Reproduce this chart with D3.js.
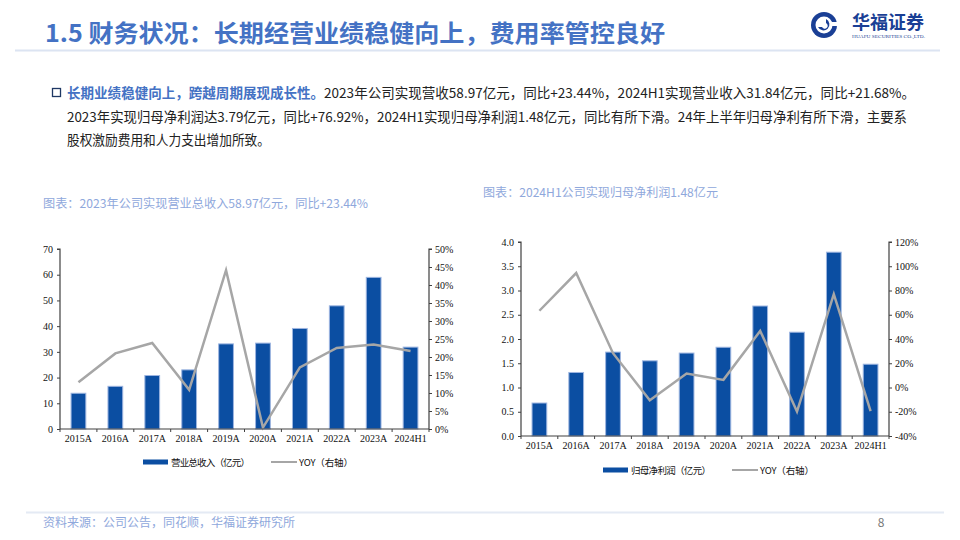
<!DOCTYPE html>
<html>
<head>
<meta charset="utf-8">
<script src="https://cdn.jsdelivr.net/npm/d3@7"></script>
<style>
  body { margin: 0; background: #fff; }
  svg { display: block; }
</style>
</head>
<body>
<svg id="page" width="960" height="540"></svg>
<script>
// data
const years = ['2015A', '2016A', '2017A', '2018A', '2019A', '2020A', '2021A', '2022A', '2023A', '2024H1'];
const revenue = [13.9, 16.6, 20.8, 23.0, 33.1, 33.4, 39.1, 47.9, 58.97, 31.84];
const revenueYoy = [13.0, 21.0, 23.9, 10.9, 44.1, 0.4, 17.1, 22.5, 23.44, 21.68];
const profit = [0.68, 1.31, 1.73, 1.55, 1.71, 1.83, 2.68, 2.14, 3.79, 1.48];
const profitYoy = [63.3, 94.4, 28.3, -10.5, 11.5, 6.3, 46.7, -19.9, 76.92, -19.4];

const revenueTicks = d3.range(0, 71, 10);
const revenueYoyTicks = d3.range(0, 51, 5);
const profitTicks = d3.range(0, 4.01, 0.5);
const profitYoyTicks = d3.range(-40, 121, 20);

const BLUE = '#0B4EA2';
const GREY = '#A6A6A6';
const TITLE_BLUE = '#4472C4';
const LIGHT_BLUE = '#8FA8DC';
const CJK = '"Noto Sans CJK SC", "Noto Sans", sans-serif';
const SERIF = '"Liberation Serif", "DejaVu Serif", serif';

const svg = d3.select('#page');

// header
svg.append('text')
  .attr('x', 45).attr('y', 42)
  .attr('font-family', CJK).attr('font-weight', 'bold')
  .attr('font-size', 24).attr('fill', TITLE_BLUE)
  .attr('textLength', 620).attr('lengthAdjust', 'spacingAndGlyphs')
  .text('1.5 财务状况：长期经营业绩稳健向上，费用率管控良好');

svg.append('line')
  .attr('x1', 15).attr('x2', 940).attr('y1', 50.5).attr('y2', 50.5)
  .attr('stroke', '#DCE4F2').attr('stroke-width', 2);

// logo
const logo = svg.append('g').attr('transform', 'translate(824,25)');
logo.append('circle').attr('r', 13).attr('fill', '#1A3F95');
logo.append('circle').attr('r', 8.5).attr('fill', '#fff');
logo.append('path')
  .attr('d', 'M -6 2 A 6 6 0 1 0 2 -6 L 2 -2 A 3 3 0 1 1 -2 2 Z')
  .attr('fill', '#1A3F95');
logo.append('rect').attr('x', 6).attr('y', -3).attr('width', 8).attr('height', 4).attr('fill', '#fff');
svg.append('text')
  .attr('x', 852).attr('y', 29)
  .attr('font-family', '"Noto Sans CJK SC", serif').attr('font-weight', 'bold')
  .attr('font-size', 18).attr('fill', '#1A3F95')
  .attr('textLength', 72).attr('lengthAdjust', 'spacingAndGlyphs')
  .text('华福证券');
svg.append('text')
  .attr('x', 852).attr('y', 38)
  .attr('font-family', SERIF).attr('font-size', 5).attr('fill', '#1A3F95')
  .attr('textLength', 73).attr('lengthAdjust', 'spacingAndGlyphs')
  .text('HUAFU SECURITIES CO.,LTD.');

// bullet paragraph
svg.append('rect')
  .attr('x', 52.5).attr('y', 88.5).attr('width', 8).attr('height', 8)
  .attr('fill', 'none').attr('stroke', '#1F3864').attr('stroke-width', 1.3);

const para = [
  { y: 98, len: 848, parts: [
    { t: '长期业绩稳健向上，跨越周期展现成长性。', bold: true },
    { t: '2023年公司实现营收58.97亿元，同比+23.44%，2024H1实现营业收入31.84亿元，同比+21.68%。' }] },
  { y: 122, len: 840, parts: [
    { t: '2023年实现归母净利润达3.79亿元，同比+76.92%，2024H1实现归母净利润1.48亿元，同比有所下滑。24年上半年归母净利有所下滑，主要系' }] },
  { y: 145, len: 203, parts: [{ t: '股权激励费用和人力支出增加所致。' }] }
];
para.forEach((line) => {
  const t = svg.append('text')
    .attr('x', 67).attr('y', line.y)
    .attr('font-family', CJK).attr('font-size', 13.5).attr('fill', '#222')
    .attr('textLength', line.len).attr('lengthAdjust', 'spacingAndGlyphs');
  line.parts.forEach((p) => {
    t.append('tspan')
      .attr('font-weight', p.bold ? 'bold' : 'normal')
      .attr('fill', p.bold ? TITLE_BLUE : '#222')
      .text(p.t);
  });
});

// captions
svg.append('text')
  .attr('x', 43).attr('y', 208)
  .attr('font-family', CJK).attr('font-size', 12).attr('fill', LIGHT_BLUE)
  .attr('textLength', 325).attr('lengthAdjust', 'spacingAndGlyphs')
  .text('图表：2023年公司实现营业总收入58.97亿元，同比+23.44%');
svg.append('text')
  .attr('x', 483).attr('y', 196.5)
  .attr('font-family', CJK).attr('font-size', 12).attr('fill', LIGHT_BLUE)
  .attr('textLength', 235).attr('lengthAdjust', 'spacingAndGlyphs')
  .text('图表：2024H1公司实现归母净利润1.48亿元');

// footer
svg.append('line')
  .attr('x1', 26).attr('x2', 944).attr('y1', 512.5).attr('y2', 512.5)
  .attr('stroke', '#E4EAF4').attr('stroke-width', 2);
svg.append('text')
  .attr('x', 43).attr('y', 527)
  .attr('font-family', CJK).attr('font-size', 12).attr('fill', LIGHT_BLUE)
  .attr('textLength', 252).attr('lengthAdjust', 'spacingAndGlyphs')
  .text('资料来源：公司公告，同花顺，华福证券研究所');
svg.append('text')
  .attr('x', 881).attr('y', 527)
  .attr('font-family', CJK).attr('font-size', 12).attr('fill', '#777')
  .attr('text-anchor', 'middle')
  .text('8');

function drawChart(cfg) {
  const g = svg.append('g');
  const x = d3.scaleBand().domain(years).range([cfg.left, cfg.right]).paddingInner(0.6).paddingOuter(0.3);
  const xb = d3.scaleBand().domain(years).range([cfg.left, cfg.right]);
  const y = d3.scaleLinear().domain(cfg.yDomain).range([cfg.bottom, cfg.top]);
  const y2 = d3.scaleLinear().domain(cfg.y2Domain).range([cfg.bottom, cfg.top]);

  // bars
  g.selectAll('rect.bar')
    .data(cfg.bars)
    .join('rect')
    .attr('class', 'bar')
    .attr('x', (d, i) => xb(years[i]) + xb.bandwidth() * 0.3)
    .attr('width', xb.bandwidth() * 0.4)
    .attr('y', (d) => y(d))
    .attr('height', (d) => cfg.bottom - y(d))
    .attr('fill', BLUE)
    .attr('stroke', '#9DB5E0').attr('stroke-width', 1);

  // yoy line
  const line = d3.line()
    .x((d, i) => xb(years[i]) + xb.bandwidth() / 2)
    .y((d) => y2(d));
  g.append('path')
    .datum(cfg.yoy)
    .attr('d', line)
    .attr('fill', 'none')
    .attr('stroke', GREY).attr('stroke-width', 2.5)
    .attr('stroke-linejoin', 'miter');

  // axes
  const leftAxis = d3.axisLeft(y).tickValues(cfg.yTicks).tickSize(3).tickPadding(4).tickFormat(cfg.yFormat);
  const rightAxis = d3.axisRight(y2).tickValues(cfg.y2Ticks).tickSize(3).tickPadding(3).tickFormat((d) => d + '%');
  const bottomAxis = d3.axisBottom(xb).tickSize(0).tickPadding(6);

  const styleAxis = (sel) => {
    sel.selectAll('path.domain').attr('stroke', '#404040').attr('stroke-width', 1.2);
    sel.selectAll('.tick line').attr('stroke', '#404040');
    sel.selectAll('text').attr('font-family', SERIF).attr('font-size', 10).attr('fill', '#111');
  };

  g.append('g').attr('transform', `translate(${cfg.left},0)`).call(leftAxis).call(styleAxis)
    .call((s) => s.select('.domain').attr('d', `M-3,${cfg.top}H0V${cfg.bottom}`));
  g.append('g').attr('transform', `translate(${cfg.right},0)`).call(rightAxis).call(styleAxis)
    .call((s) => s.select('.domain').attr('d', `M3,${cfg.top}H0V${cfg.bottom}`));
  const bx = g.append('g').attr('transform', `translate(0,${cfg.bottom})`).call(bottomAxis).call(styleAxis);
  bx.select('.domain').attr('d', `M${cfg.left},0H${cfg.right}`);
  // boundary ticks on the category axis
  g.selectAll('line.xtick')
    .data(years.concat(['end']))
    .join('line')
    .attr('class', 'xtick')
    .attr('x1', (d, i) => cfg.left + i * xb.step())
    .attr('x2', (d, i) => cfg.left + i * xb.step())
    .attr('y1', cfg.bottom).attr('y2', cfg.bottom + 3)
    .attr('stroke', '#404040');

  // legend
  const lg = g.append('g').attr('transform', `translate(${cfg.legendX},${cfg.legendY})`);
  lg.append('rect').attr('x', 0).attr('y', -2.5).attr('width', 25).attr('height', 5).attr('fill', BLUE);
  lg.append('text')
    .attr('x', 28).attr('y', 3.5)
    .attr('font-family', CJK).attr('font-size', 9.5).attr('fill', '#111')
    .attr('textLength', cfg.legendLen1).attr('lengthAdjust', 'spacing')
    .text(cfg.legendLabel);
  const lx = 28 + cfg.legendLen1 + 21;
  lg.append('line').attr('x1', lx).attr('x2', lx + 26).attr('y1', 0).attr('y2', 0)
    .attr('stroke', GREY).attr('stroke-width', 2);
  lg.append('text')
    .attr('x', lx + 28).attr('y', 3.5)
    .attr('font-family', CJK).attr('font-size', 9.5).attr('fill', '#111')
    .attr('textLength', 54).attr('lengthAdjust', 'spacing')
    .text('YOY（右轴）');
}

drawChart({
  left: 60, right: 429, top: 249, bottom: 429,
  yDomain: [0, 70], y2Domain: [0, 50],
  yTicks: revenueTicks, y2Ticks: revenueYoyTicks,
  yFormat: d3.format('d'),
  bars: revenue, yoy: revenueYoy,
  legendX: 143, legendY: 462, legendLen1: 79,
  legendLabel: '营业总收入（亿元）'
});

drawChart({
  left: 521, right: 889, top: 242, bottom: 436,
  yDomain: [0, 4], y2Domain: [-40, 120],
  yTicks: profitTicks, y2Ticks: profitYoyTicks,
  yFormat: d3.format('.1f'),
  bars: profit, yoy: profitYoy,
  legendX: 603, legendY: 470, legendLen1: 80,
  legendLabel: '归母净利润（亿元）'
});
</script>
</body>
</html>
